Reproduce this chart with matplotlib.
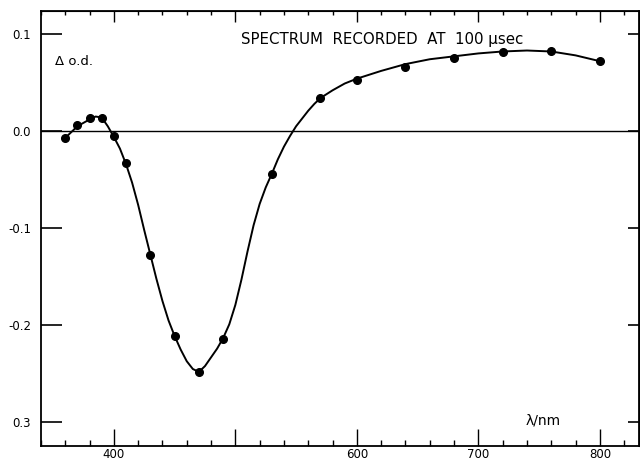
import matplotlib.pyplot as plt
import numpy as np

wavelength = [360, 370, 380, 390, 400, 410, 430, 450, 470, 490,
              530, 570, 600, 640, 680, 720, 760, 800]
delta_od = [-0.007, 0.006, 0.013, 0.014, -0.005, -0.033, -0.128, -0.211, -0.248, -0.214,
            -0.044, 0.034, 0.053, 0.066, 0.075, 0.081, 0.083, 0.072]

# hand-drawn smooth curve
curve_nm = [360, 370, 380, 385, 390, 395, 400, 405, 410, 415, 420, 425, 430, 435,
            440, 445, 450, 455, 460, 465, 470, 475, 480, 485, 490, 495, 500, 505,
            510, 515, 520, 525, 530, 535, 540, 545, 550, 555, 560, 565, 570, 580,
            590, 600, 620, 640, 660, 680, 700, 720, 740, 760, 780, 800]
curve_od = [-0.007, 0.005, 0.012, 0.015, 0.014, 0.005, -0.006, -0.018, -0.034, -0.053,
            -0.076, -0.102, -0.127, -0.152, -0.175, -0.195, -0.211, -0.225, -0.237,
            -0.245, -0.248, -0.242, -0.233, -0.224, -0.213, -0.199, -0.179, -0.153,
            -0.124, -0.097, -0.075, -0.058, -0.044, -0.029, -0.016, -0.005, 0.005,
            0.013, 0.021, 0.028, 0.034, 0.042, 0.049, 0.054, 0.062, 0.069, 0.074,
            0.077, 0.080, 0.082, 0.083, 0.082, 0.078, 0.072]

yticks = [0.1, 0.0, -0.1, -0.2, -0.3]
ytick_labels = ['0.1', '0.0', '-0.1', '-0.2', '0.3']
xticks = [400, 500, 600, 700, 800]
xtick_labels = ['400', '', '600', '700', '800']

fig = plt.figure(figsize=(6.4, 4.62), dpi=100)
ax = fig.add_axes([0.064, 0.034, 0.934, 0.942])

ax.axhline(0, color='black', lw=1.0)
ax.plot(curve_nm, curve_od, color='black', lw=1.4)
ax.plot(wavelength, delta_od, 'o', color='black', ms=5.5)

ax.set_xlim(340, 832)
ax.set_ylim(-0.3246, 0.1236)

ax.set_xticks(xticks)
ax.set_xticklabels(xtick_labels)
ax.set_xticks(np.arange(340, 832, 20), minor=True)
ax.set_yticks(yticks)
ax.set_yticklabels(ytick_labels)

ax.tick_params(axis='x', which='major', direction='in', length=12, width=1, labelsize=8.5, pad=1)
ax.tick_params(axis='x', which='minor', direction='in', length=4, width=1)
ax.tick_params(axis='y', which='major', direction='in', length=15, width=1.2, labelsize=8.5, pad=7)

# top and right axes carry shorter inward ticks
top = ax.secondary_xaxis('top')
top.set_xticks(xticks)
top.set_xticklabels([])
top.set_xticks(np.arange(340, 832, 20), minor=True)
top.tick_params(which='major', direction='in', length=8, width=1)
top.tick_params(which='minor', direction='in', length=3, width=1)

right = ax.secondary_yaxis('right')
right.set_yticks(yticks)
right.set_yticklabels([])
right.tick_params(direction='in', length=8, width=1.2)

for s in ax.spines.values():
    s.set_linewidth(1.3)

ax.text(0.57, 0.952, 'SPECTRUM  RECORDED  AT  100 \u03bcsec', transform=ax.transAxes,
        ha='center', va='top', fontsize=10.8)
ax.text(0.024, 0.885, '\u0394 o.d.', transform=ax.transAxes, ha='left', va='center', fontsize=9.5)
ax.text(0.81, 0.06, '\u03bb/nm', transform=ax.transAxes, ha='left', va='center', fontsize=10)

plt.savefig('out.png', dpi=100)
